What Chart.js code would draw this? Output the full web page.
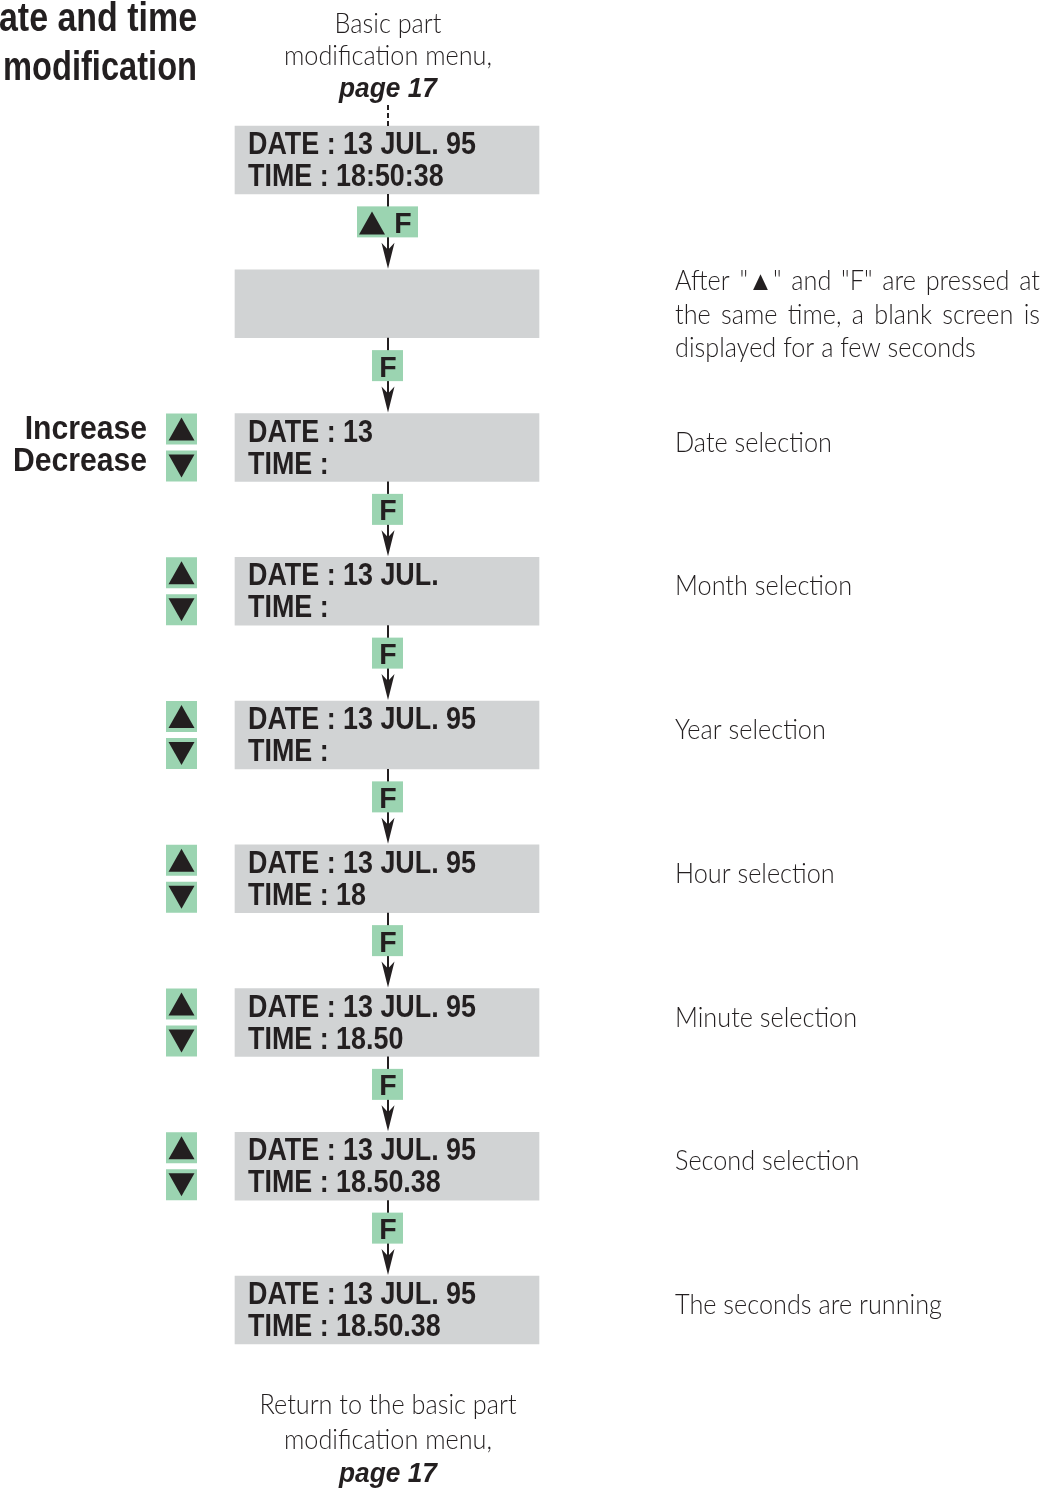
<!DOCTYPE html>
<html>
<head>
<meta charset="utf-8">
<script src="https://cdn.jsdelivr.net/npm/chart.js@4"></script>
<style>
  html, body { margin: 0; padding: 0; background: #fff; }
  #wrap { width: 1056px; height: 1488px; position: relative; }
</style>
</head>
<body>
<div id="wrap"><canvas id="flow"></canvas></div>
<script>
// screen contents, one entry per step
const dateLines = ["DATE : 13 JUL. 95", "", "DATE : 13", "DATE : 13 JUL.", "DATE : 13 JUL. 95",
  "DATE : 13 JUL. 95", "DATE : 13 JUL. 95", "DATE : 13 JUL. 95", "DATE : 13 JUL. 95"];
const timeLines = ["TIME : 18:50:38", "", "TIME :", "TIME :", "TIME :",
  "TIME : 18", "TIME : 18.50", "TIME : 18.50.38", "TIME : 18.50.38"];
// key pressed to go from step i to step i+1
const keys = ["▲ F", "F", "F", "F", "F", "F", "F", "F"];
// steps where the value can be changed with up / down
const adjustable = [false, false, true, true, true, true, true, true, false];
const notes = [
  [],
  ['After "▲" and "F" are pressed at', "the same time, a blank screen is", "displayed for a few seconds"],
  ["Date selection"],
  ["Month selection"],
  ["Year selection"],
  ["Hour selection"],
  ["Minute selection"],
  ["Second selection"],
  ["The seconds are running"],
];
const titleLines = ["Date and time", "modification"];
const topCaption = ["Basic part", "modification menu,", "page 17"];
const bottomCaption = ["Return to the basic part", "modification menu,", "page 17"];
const buttonLabels = ["Increase", "Decrease"];

const INK = "#231f20";
const GREY = "#d1d3d4";
const GREEN = "#9bd4b1";
const BOLD = "'Liberation Sans Narrow', 'Liberation Sans', sans-serif";
const LIGHT = "Lato, 'Open Sans', sans-serif";
const STEP_PX = 143.75;
const FIRST_Y = 160;
const BOX_H = 68;
const AXIS_X = 388;

function scaleFor(ctx, font, sample, width) {
  ctx.font = font;
  return width / ctx.measureText(sample).width;
}

function text(ctx, s, x, y, font, align, sx) {
  ctx.save();
  ctx.font = font;
  ctx.textAlign = align;
  ctx.textBaseline = "alphabetic";
  ctx.translate(x, y);
  ctx.scale(sx, 1);
  ctx.fillText(s, 0, 0);
  ctx.restore();
}

function triangle(ctx, cx, cy, w, h, up) {
  ctx.beginPath();
  if (up) {
    ctx.moveTo(cx, cy - h / 2);
    ctx.lineTo(cx + w / 2, cy + h / 2);
    ctx.lineTo(cx - w / 2, cy + h / 2);
  } else {
    ctx.moveTo(cx, cy + h / 2);
    ctx.lineTo(cx + w / 2, cy - h / 2);
    ctx.lineTo(cx - w / 2, cy - h / 2);
  }
  ctx.closePath();
  ctx.fill();
}

const flowPlugin = {
  id: "flow",
  afterDatasetsDraw(chart) {
    const ctx = chart.ctx;
    const xs = chart.scales.x;
    const ys = chart.scales.y;
    const ax = xs.getPixelForValue(AXIS_X);
    ctx.save();
    ctx.fillStyle = INK;
    ctx.strokeStyle = INK;

    const screenFont = "bold 31px " + BOLD;
    const screenSx = scaleFor(ctx, screenFont, "DATE : 13 JUL. 95", 228);
    const lightFont = "300 27px " + LIGHT;
    const lightSx = scaleFor(ctx, lightFont, "modification menu,", 208);
    const pageFont = "italic bold 28px " + BOLD;
    const pageSx = scaleFor(ctx, pageFont, "page 17", 98);
    const keyFont = "bold 30px " + BOLD;
    const keySx = 0.95;

    // title, top left (cut at the page edge)
    const titleFont = "bold 41px " + BOLD;
    const titleSx0 = scaleFor(ctx, titleFont, "ate and time", 198);
    const titleSx1 = scaleFor(ctx, titleFont, titleLines[1], 194);
    text(ctx, titleLines[0], xs.getPixelForValue(197), 31, titleFont, "right", titleSx0);
    text(ctx, titleLines[1], xs.getPixelForValue(197), 80, titleFont, "right", titleSx1);

    // top caption + dashed link
    const y0 = ys.getPixelForValue(0);
    text(ctx, topCaption[0], ax, y0 - 127, lightFont, "center", lightSx);
    text(ctx, topCaption[1], ax, y0 - 95, lightFont, "center", lightSx);
    text(ctx, topCaption[2], ax, y0 - 63, pageFont, "center", pageSx);
    ctx.lineWidth = 2;
    ctx.setLineDash([5, 3]);
    ctx.beginPath();
    ctx.moveTo(ax, y0 - 55);
    ctx.lineTo(ax, y0 - BOX_H / 2);
    ctx.stroke();
    ctx.setLineDash([]);

    // bottom caption
    const yN = ys.getPixelForValue(dateLines.length - 1);
    text(ctx, bottomCaption[0], ax, yN + 104, lightFont, "center", lightSx);
    text(ctx, bottomCaption[1], ax, yN + 139, lightFont, "center", lightSx);
    text(ctx, bottomCaption[2], ax, yN + 172, pageFont, "center", pageSx);

    const boxLeft = xs.getPixelForValue(248);
    dateLines.forEach(function (d, i) {
      const cy = ys.getPixelForValue(i);
      const top = cy - BOX_H / 2;
      const bottom = cy + BOX_H / 2;
      // screen text
      if (d) text(ctx, d, boxLeft, top + 28, screenFont, "left", screenSx);
      if (timeLines[i]) text(ctx, timeLines[i], boxLeft, top + 60, screenFont, "left", screenSx);

      // up / down buttons
      if (adjustable[i]) {
        const bx = xs.getPixelForValue(166);
        ctx.fillStyle = GREEN;
        ctx.fillRect(bx, top, 31, 31);
        ctx.fillRect(bx, bottom - 31, 31, 31);
        ctx.fillStyle = INK;
        triangle(ctx, bx + 15.5, top + 15.5, 26, 23, true);
        triangle(ctx, bx + 15.5, bottom - 15.5, 26, 23, false);
      }
      if (i === 2) {
        const lblFont = "bold 33px " + BOLD;
        const lblSx = scaleFor(ctx, lblFont, buttonLabels[1], 134);
        text(ctx, buttonLabels[0], xs.getPixelForValue(147), cy - 9, lblFont, "right", lblSx);
        text(ctx, buttonLabels[1], xs.getPixelForValue(147), cy + 23, lblFont, "right", lblSx);
      }

      // side notes
      const lines = notes[i];
      const nx = xs.getPixelForValue(675);
      const nw = xs.getPixelForValue(1040) - nx;
      const lh = 33.5;
      let by = lines.length > 1 ? cy + 20 - (lines.length - 1) * lh / 2 : cy + 4;
      lines.forEach(function (ln, k) {
        const y = by + k * lh;
        if (lines.length > 1 && k < lines.length - 1) {
          // justified line
          ctx.font = lightFont;
          const words = ln.split(" ");
          const widths = words.map(function (w) { return ctx.measureText(w).width * lightSx; });
          const total = widths.reduce(function (a, b) { return a + b; }, 0);
          const gap = (nw - total) / (words.length - 1);
          let x = nx;
          words.forEach(function (w, j) {
            text(ctx, w, x, y, lightFont, "left", lightSx);
            x += widths[j] + gap;
          });
        } else {
          text(ctx, ln, nx, y, lightFont, "left", lightSx);
        }
      });

      // arrow + key to next step
      if (i < keys.length) {
        const nextTop = ys.getPixelForValue(i + 1) - BOX_H / 2;
        ctx.lineWidth = 2;
        ctx.beginPath();
        ctx.moveTo(ax, bottom);
        ctx.lineTo(ax, nextTop - 12);
        ctx.stroke();
        ctx.beginPath();
        ctx.moveTo(ax, nextTop - 1);
        ctx.lineTo(ax - 6.5, nextTop - 27);
        ctx.lineTo(ax, nextTop - 20);
        ctx.lineTo(ax + 6.5, nextTop - 27);
        ctx.closePath();
        ctx.fill();

        const ky = (bottom + nextTop) / 2 - 10;
        const key = keys[i];
        if (key === "F") {
          ctx.fillStyle = GREEN;
          ctx.fillRect(ax - 16, ky - 15.5, 31, 31);
          ctx.fillStyle = INK;
          text(ctx, "F", ax, ky + 11, keyFont, "center", keySx);
        } else {
          ctx.fillStyle = GREEN;
          ctx.fillRect(ax - 31, ky - 15.5, 61, 31);
          ctx.fillStyle = INK;
          triangle(ctx, ax - 16, ky + 1, 26, 23, true);
          text(ctx, "F", ax + 15, ky + 11, keyFont, "center", keySx);
        }
      }
    });
    ctx.restore();
  },
};

new Chart(document.getElementById("flow"), {
  type: "bar",
  data: {
    datasets: [
      {
        label: "screens",
        data: dateLines.map(function (d, i) { return { x: [235, 539], y: i }; }),
        backgroundColor: GREY,
        borderWidth: 0,
        borderSkipped: false,
        barThickness: BOX_H,
      },
    ],
  },
  options: {
    indexAxis: "y",
    responsive: true,
    maintainAspectRatio: false,
    animation: false,
    layout: { padding: 0 },
    plugins: { legend: { display: false }, tooltip: { enabled: false } },
    scales: {
      x: { type: "linear", min: 0, max: 1056, display: false, offset: false },
      y: {
        type: "linear",
        reverse: true,
        offset: false,
        min: -FIRST_Y / STEP_PX,
        max: (1488 - FIRST_Y) / STEP_PX,
        display: false,
      },
    },
  },
  plugins: [flowPlugin],
});
</script>
</body>
</html>
